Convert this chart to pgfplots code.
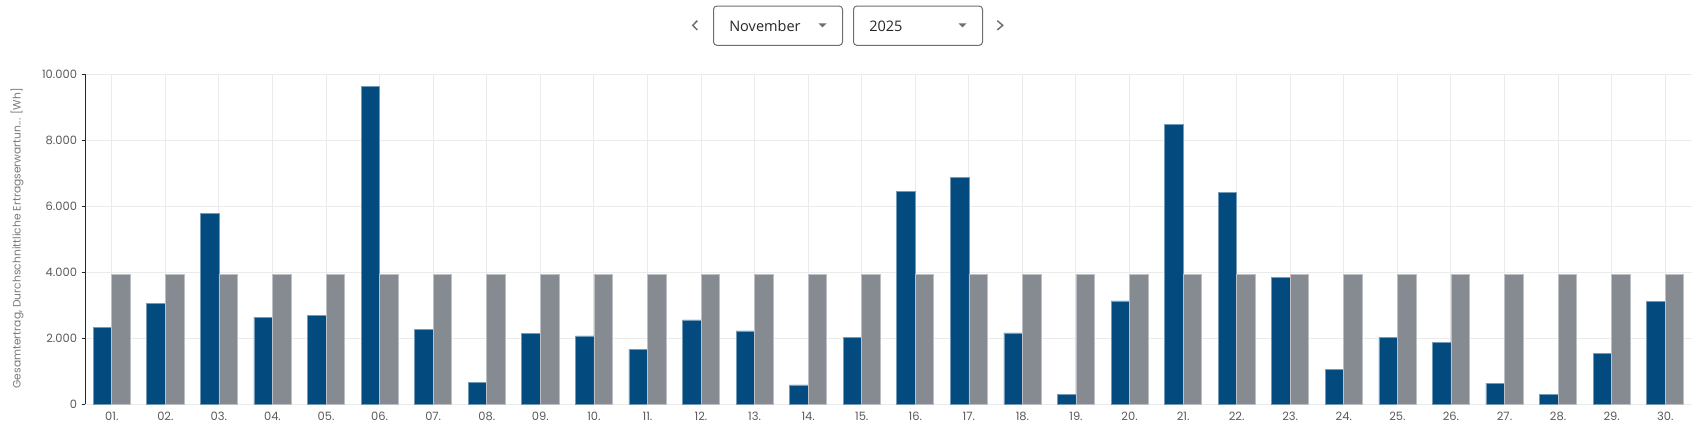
\documentclass[border=0pt]{standalone}
\usepackage{fontspec}
\setmainfont{Poppins}
\newfontfamily\uifont{Open Sans}
\usepackage{pgfplots}
\pgfplotsset{compat=1.18}
\definecolor{barblue}{RGB}{3,74,126}
\definecolor{bargray}{RGB}{133,139,145}
\definecolor{gridc}{RGB}{235,235,235}
\definecolor{txt}{RGB}{90,90,90}
\definecolor{txtl}{RGB}{120,120,120}
\definecolor{ctrl}{RGB}{110,110,110}
\begin{document}
\begin{tikzpicture}[x=0.75pt,y=0.75pt]
\useasboundingbox (0,0) rectangle (1702,430);
\begin{axis}[
  at={(63.75pt,19.5pt)}, anchor=south west,
  scale only axis, width=1205.25pt, height=247.5pt,
  xmin=-0.5, xmax=29.5, ymin=0, ymax=10000,
  ybar=0pt, bar width=13.9pt,
  axis lines=left,
  axis line style={-},
  x axis line style={draw=none},
  y axis line style={draw=black!85, line width=0.75pt},
  xmajorgrids, ymajorgrids,
  grid style={gridc, line width=0.75pt},
  xtick={0,...,29},
  xticklabels={01.,02.,03.,04.,05.,06.,07.,08.,09.,10.,11.,12.,13.,14.,15.,16.,17.,18.,19.,20.,21.,22.,23.,24.,25.,26.,27.,28.,29.,30.},
  ytick={0,2000,4000,6000,8000,10000},
  scaled y ticks=false,
  /pgf/number format/.cd, 1000 sep={.}, assume math mode=true, /pgfplots/.cd,
  x tick style={draw=none},
  y tick style={draw=black!85, line width=0.75pt},
  tick align=outside, major tick length=2.5pt,
  xticklabel style={font=\fontsize{8.6}{10}\selectfont, text=txt},
  yticklabel style={font=\fontsize{8.6}{10}\selectfont, text=txt},
]
\addplot[fill=barblue, draw=barblue!55!white, line width=0.5pt] coordinates {
(0,2326) (1,3054) (2,5763) (3,2629) (4,2690) (5,9636) (6,2265) (7,657) (8,2144) (9,2063)
(10,1658) (11,2548) (12,2214) (13,576) (14,2012) (15,6431) (16,6876) (17,2154) (18,283) (19,3124)
(20,8483) (21,6400) (22,3832) (23,1052) (24,2012) (25,1871) (26,627) (27,283) (28,1537) (29,3104)};
\addplot[fill=bargray, draw=bargray!55!white, line width=0.5pt] coordinates {
(0,3930) (1,3930) (2,3930) (3,3930) (4,3930) (5,3930) (6,3930) (7,3930) (8,3930) (9,3930)
(10,3930) (11,3930) (12,3930) (13,3930) (14,3930) (15,3930) (16,3930) (17,3930) (18,3930) (19,3930)
(20,3930) (21,3930) (22,3930) (23,3930) (24,3930) (25,3930) (26,3930) (27,3930) (28,3930) (29,3930)};
\end{axis}
\node[rotate=90, text=txtl, font=\fontsize{8.05}{10}\selectfont, inner sep=0] at (17,191.5) {Gesamtertrag, Durchschnittliche Ertragserwartun... [Wh]};
% controls
\draw[rounded corners=2.5pt, draw=ctrl, line width=0.75pt] (713.5,424) rectangle (842.5,384.7);
\draw[rounded corners=2.5pt, draw=ctrl, line width=0.75pt] (853.5,424) rectangle (982.5,384.7);
\node[anchor=base west, inner sep=0, text=black!85] at (729,398.3) {\uifont\fontsize{10.9}{13}\selectfont November};
\node[anchor=base west, inner sep=0, text=black!85] at (869,398.3) {\uifont\fontsize{10.9}{13}\selectfont 2025};
\fill[ctrl] (818.3,406.7) -- (826.7,406.7) -- (822.5,402.7) -- cycle;
\fill[ctrl] (958.3,406.7) -- (966.7,406.7) -- (962.5,402.7) -- cycle;
\draw[ctrl, line width=1.1pt] (697.3,409.3) -- (692.7,404.65) -- (697.3,400);
\draw[ctrl, line width=1.1pt] (997.3,409.3) -- (1002.7,404.65) -- (997.3,400);
\end{tikzpicture}
\end{document}
